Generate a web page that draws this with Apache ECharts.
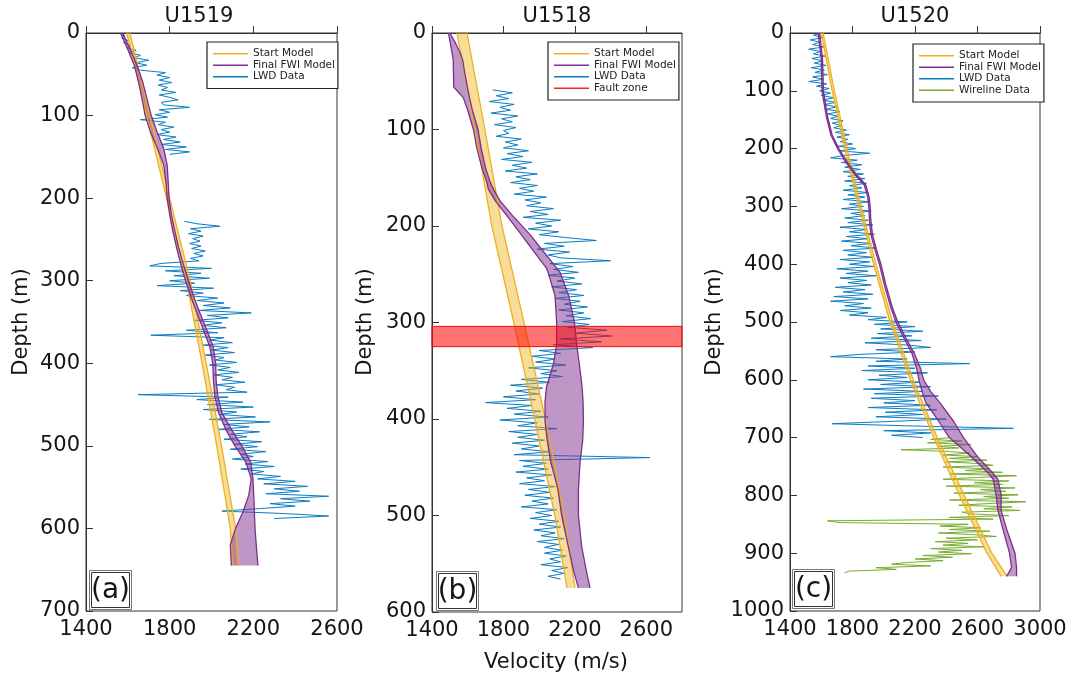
<!DOCTYPE html>
<html><head><meta charset="utf-8">
<script src="https://cdn.jsdelivr.net/npm/echarts@6/dist/echarts.min.js"></script>
<style>html,body{margin:0;padding:0;background:#fff}#chart{width:1075px;height:679px}</style>
</head><body><div id="chart"></div>
<script>
// ================= DATA =================
const panelTitles = ['U1519', 'U1518', 'U1520'];
const panelLetters = ['(a)', '(b)', '(c)'];
const velocityMin = 1400;
const velocityMax = [2600, 2800, 3000];
const velocityTick = 400;
const depthMax = [700, 600, 1000];
const depthTick = 100;
const legendNames = [
  ['Start Model', 'Final FWI Model', 'LWD Data'],
  ['Start Model', 'Final FWI Model', 'LWD Data', 'Fault zone'],
  ['Start Model', 'Final FWI Model', 'LWD Data', 'Wireline Data']
];
const axisTitleX = 'Velocity (m/s)';
const axisTitleY = 'Depth (m)';

// ---- U1519 (a) ----
const startA_depth = [0, 100, 200, 300, 400, 500, 600, 645];
const startA_left  = [1595, 1690, 1785, 1880, 1955, 2025, 2090, 2100];
const startA_right = [1610, 1705, 1800, 1898, 1975, 2048, 2115, 2130];
const fwiA_depth = [0, 20, 40, 60, 80, 100, 120, 140, 160, 180, 200, 220, 240, 260, 280, 300, 320, 340, 360, 380, 400, 420, 440, 460, 480, 500, 520, 540, 560, 580, 600, 620, 645];
const fwiA_left  = [1565, 1600, 1632, 1652, 1668, 1683, 1708, 1742, 1772, 1782, 1788, 1800, 1815, 1833, 1853, 1876, 1902, 1932, 1962, 1992, 2006, 2009, 2016, 2034, 2068, 2112, 2165, 2190, 2178, 2150, 2115, 2090, 2095];
const fwiA_right = [1575, 1612, 1645, 1672, 1692, 1712, 1740, 1772, 1788, 1793, 1797, 1808, 1825, 1843, 1865, 1890, 1916, 1946, 1978, 2008, 2020, 2022, 2030, 2050, 2095, 2145, 2188, 2198, 2202, 2205, 2208, 2214, 2222];
const lwdA1_top = 0, lwdA1_step = 3;
const lwdA1 = [1560, 1585, 1570, 1600, 1580, 1615, 1595, 1640, 1605, 1660,
  1630, 1700, 1640, 1690, 1620, 1660, 1780, 1740, 1800, 1750,
  1810, 1745, 1790, 1760, 1830, 1750, 1800, 1840, 1760, 1770,
  1895, 1750, 1800, 1730, 1790, 1660, 1780, 1745, 1820, 1760,
  1800, 1740, 1830, 1770, 1850, 1760, 1880, 1780, 1895, 1800];
const lwdA2_top = 228, lwdA2_step = 3;
const lwdA2 = [1870, 1930, 2040, 1900, 1950, 1890, 1960, 1910, 1945, 1895,
  1950, 1905, 1970, 1915, 1960, 1900, 1940, 1760, 1705, 2000,
  1780, 1950, 1820, 1990, 1800, 1920, 1740, 2010, 1850, 1960,
  1880, 2030, 1930, 2060, 1960, 2090, 1940, 2190, 1980, 2080,
  1920, 2050, 1960, 2070, 1880, 2030, 1710, 2060, 1990, 2100,
  1960, 2080, 2000, 2110, 1970, 2060, 2020, 2120, 1990, 2090,
  2030, 2130, 2010, 2100, 2050, 2160, 2020, 2110, 2070, 2170,
  1650, 2080, 1930, 2150, 1980, 2200, 1960, 2120, 2040, 2210,
  1990, 2280, 2060, 2180, 2030, 2230, 2090, 2170, 2060, 2240,
  2110, 2220, 2090, 2260, 2140, 2200, 2100, 2270, 2160, 2300,
  2140, 2250, 2190, 2330, 2220, 2400, 2250, 2460, 2300, 2420,
  2260, 2560, 2330, 2470, 2280, 2400, 2230, 2050, 2350, 2560,
  2300];

// ---- U1518 (b) ----
const startB_depth = [0, 100, 200, 300, 400, 500, 575];
const startB_left  = [1540, 1640, 1735, 1858, 1975, 2088, 2156];
const startB_right = [1596, 1696, 1792, 1915, 2035, 2140, 2201];
const fwiB_depth = [0, 10, 20, 28, 40, 56, 67, 80, 100, 120, 140, 154, 162, 174, 189, 209, 221, 244, 248, 272, 300, 323, 343, 366, 382, 402, 422, 445, 461, 473, 500, 532, 559, 575];
const fwiB_left  = [1492, 1502, 1512, 1519, 1520, 1522, 1575, 1600, 1632, 1652, 1680, 1706, 1716, 1755, 1818, 1900, 1949, 2042, 2050, 2089, 2098, 2098, 2080, 2042, 2033, 2033, 2045, 2065, 2089, 2105, 2126, 2163, 2195, 2220];
const fwiB_right = [1500, 1530, 1556, 1572, 1582, 1598, 1610, 1626, 1658, 1676, 1700, 1725, 1745, 1781, 1850, 1949, 2000, 2100, 2117, 2165, 2198, 2210, 2225, 2240, 2246, 2248, 2244, 2229, 2224, 2220, 2220, 2238, 2266, 2285];
const lwdB_top = 59, lwdB_step = 3;
const lwdB = [1740, 1850, 1760, 1830, 1720, 1860, 1780, 1840, 1730, 1880,
  1790, 1850, 1750, 1870, 1800, 1830, 1760, 1900, 1810, 1880,
  1800, 1940, 1820, 1910, 1790, 1960, 1850, 1930, 1810, 1990,
  1870, 1950, 1840, 1990, 1890, 1970, 1860, 2040, 1920, 2010,
  1930, 2080, 1950, 2050, 1910, 2120, 1980, 2070, 1940, 2110,
  2000, 2150, 2320, 2030, 2140, 1990, 2170, 2050, 2120, 2400,
  2060, 2190, 2080, 2220, 2050, 2200, 2100, 2240, 2070, 2210,
  2110, 2250, 2090, 2230, 2140, 2270, 2110, 2250, 2150, 2290,
  2130, 2280, 2160, 2380, 2200, 2410, 2120, 2350, 2080, 2300,
  2000, 2120, 1960, 2090, 1980, 2150, 1940, 2100, 2010, 2130,
  1900, 2060, 1840, 2020, 1870, 2000, 1800, 1980, 1700, 1960,
  1820, 2010, 1860, 2050, 1780, 1990, 1880, 2100, 1830, 1990,
  1880, 2030, 1850, 2000, 1900, 2060, 1860, 2620, 1890, 2040,
  1910, 2050, 1870, 2070, 1930, 2030, 1890, 2090, 1940, 2060,
  1920, 2080, 1960, 2050, 1900, 2100, 1980, 2070, 1950, 2110,
  2000, 2120, 1970, 2090, 2010, 2140, 1990, 2110, 2030, 2130,
  2030, 2150, 2060, 2120, 2010, 2160, 2070, 2140, 2050, 2120];
const faultZone = [304, 325];

// ---- U1520 (c) ----
const startC_depth = [0, 100, 200, 300, 400, 500, 600, 700, 800, 900, 940];
const startC_left  = [1600, 1670, 1750, 1840, 1935, 2040, 2170, 2320, 2485, 2660, 2752];
const startC_right = [1612, 1684, 1765, 1855, 1950, 2056, 2188, 2342, 2515, 2692, 2790];
const fwiC_depth = [0, 45, 100, 144, 177, 200, 224, 243, 263, 283, 300, 323, 349, 376, 400, 435, 475, 500, 528, 554, 580, 600, 620, 640, 673, 700, 733, 759, 772, 800, 825, 858, 900, 925, 940];
const fwiC_left  = [1580, 1600, 1605, 1632, 1662, 1705, 1758, 1810, 1875, 1897, 1904, 1908, 1918, 1945, 1972, 2003, 2045, 2078, 2130, 2180, 2210, 2225, 2245, 2270, 2355, 2420, 2560, 2660, 2700, 2720, 2730, 2762, 2805, 2818, 2786];
const fwiC_right = [1590, 1608, 1614, 1640, 1670, 1713, 1768, 1820, 1885, 1906, 1913, 1917, 1928, 1955, 1982, 2013, 2055, 2090, 2142, 2195, 2235, 2255, 2300, 2360, 2450, 2510, 2600, 2690, 2730, 2752, 2750, 2786, 2840, 2850, 2850];
const lwdC_top = 0, lwdC_step = 4;
const lwdC = [1600, 1550, 1610, 1530, 1590, 1545, 1620, 1520, 1595, 1550,
  1625, 1540, 1610, 1555, 1630, 1535, 1620, 1560, 1640, 1545,
  1615, 1520, 1635, 1570, 1650, 1590, 1660, 1600, 1680, 1610,
  1690, 1620, 1700, 1630, 1720, 1640, 1710, 1660, 1740, 1670,
  1730, 1680, 1760, 1690, 1780, 1700, 1770, 1720, 1800, 1710,
  1820, 1720, 1910, 1740, 1660, 1830, 1730, 1860, 1750, 1850,
  1740, 1870, 1770, 1880, 1750, 1890, 1780, 1860, 1740, 1900,
  1770, 1880, 1740, 1910, 1780, 1870, 1730, 1920, 1790, 1880,
  1750, 1900, 1770, 1930, 1720, 1890, 1780, 1940, 1760, 1900,
  1730, 1920, 1790, 1950, 1740, 1890, 1770, 1930, 1720, 1910,
  1780, 1940, 1700, 1900, 1760, 1950, 1720, 1890, 1770, 1920,
  1690, 1880, 1740, 1930, 1680, 1900, 1660, 1870, 1750, 1920,
  1720, 1900, 1780, 2020, 1900, 2150, 1940, 2200, 1980, 2250,
  1960, 2180, 1920, 2240, 1880, 2160, 2300, 1950, 2200, 1850,
  1660, 2150, 1950, 2550, 1900, 2200, 1860, 2280, 1970, 2150,
  1900, 2230, 1980, 2300, 1870, 2250, 1940, 2350, 1920, 2200,
  2000, 2300, 1900, 2340, 2010, 2250, 1950, 2400, 2050, 1670,
  2200, 2830, 2000, 2300, 2050, 2250];
const wireC_top = 700, wireC_step = 3;
const wireC = [2420, 2300, 2500, 2280, 2560, 2350, 2480, 2110, 2420, 2550,
  2380, 2600, 2420, 2660, 2400, 2620, 2700, 2380, 2680, 2520,
  2760, 2420, 2850, 2600, 2380, 2800, 2580, 2760, 2400, 2840,
  2620, 2780, 2450, 2860, 2640, 2800, 2420, 2910, 2680, 2480,
  2820, 2640, 2870, 2500, 2560, 2800, 2420, 2700, 1640, 1720,
  2540, 2360, 2620, 2420, 2680, 2350, 2580, 2720, 2400, 2600,
  2330, 2540, 2380, 2640, 2300, 2500, 2350, 2560, 2250, 2440,
  2200, 2380, 2150, 2050, 2300, 1950, 2080, 1780, 1750];

// ================= STYLE / LAYOUT =================
const FONT = 'DejaVu Sans';
const C_START = '#EDB120', F_START = 'rgba(237,177,32,0.45)';
const C_FWI = '#7E2F8E', F_FWI = 'rgba(126,47,142,0.5)';
const C_LWD = '#0a7cc4', C_WIRE = '#77AC30', C_FAULT = '#ff2020';
const grids = [
  {left: 86, top: 33, width: 251, height: 578},
  {left: 432, top: 33, width: 250, height: 579},
  {left: 790, top: 33, width: 250, height: 578}
];

function pairs(depths, vals) { return depths.map((d, i) => [vals[i], d]); }
function logPairs(top, step, vals) { return vals.map((v, i) => [v, top + i * step]); }

function bandSeries(gi, name, depth, left, right, lineColor, fillColor) {
  const l = pairs(depth, left), r = pairs(depth, right);
  const poly = l.concat(r.slice().reverse());
  return [
    {type: 'custom', name: name + ' range', xAxisIndex: gi, yAxisIndex: gi, data: poly, z: 3, silent: true, clip: true,
      renderItem: (p, api) => p.dataIndex === 0 ? {type: 'polygon', shape: {points: poly.map(q => api.coord(q))}, style: {fill: fillColor}} : null},
    {type: 'line', name, xAxisIndex: gi, yAxisIndex: gi, data: l, symbol: 'none', color: lineColor, lineStyle: {width: 1.3, color: lineColor}, z: 4},
    {type: 'line', name, xAxisIndex: gi, yAxisIndex: gi, data: r, symbol: 'none', color: lineColor, lineStyle: {width: 1.3, color: lineColor}, z: 4}
  ];
}
function logSeries(gi, name, data, color) {
  return {type: 'line', name, xAxisIndex: gi, yAxisIndex: gi, data, symbol: 'none', color, lineStyle: {width: 1, color}, z: 2};
}

const series = [];
series.push(logSeries(0, 'LWD Data', logPairs(lwdA1_top, lwdA1_step, lwdA1), C_LWD));
series.push(logSeries(0, 'LWD Data', logPairs(lwdA2_top, lwdA2_step, lwdA2), C_LWD));
series.push(...bandSeries(0, 'Start Model', startA_depth, startA_left, startA_right, C_START, F_START));
series.push(...bandSeries(0, 'Final FWI Model', fwiA_depth, fwiA_left, fwiA_right, C_FWI, F_FWI));

series.push(logSeries(1, 'LWD Data', logPairs(lwdB_top, lwdB_step, lwdB), C_LWD));
series.push(...bandSeries(1, 'Start Model', startB_depth, startB_left, startB_right, C_START, F_START));
series.push(...bandSeries(1, 'Final FWI Model', fwiB_depth, fwiB_left, fwiB_right, C_FWI, F_FWI));
series.push({type: 'custom', name: 'Fault zone', xAxisIndex: 1, yAxisIndex: 1, data: [faultZone], encode: {y: [0, 1]}, z: 6, silent: true,
  color: C_FAULT, itemStyle: {color: C_FAULT},
  renderItem: (p, api) => {
    const cs = p.coordSys;
    const y1 = api.coord([velocityMin, api.value(0)])[1];
    const y2 = api.coord([velocityMin, api.value(1)])[1];
    return {type: 'rect', shape: {x: cs.x, y: y1, width: cs.width, height: y2 - y1},
      style: {fill: 'rgba(255,0,0,0.55)', stroke: '#ee1010', lineWidth: 1}};
  }});

series.push(logSeries(2, 'LWD Data', logPairs(lwdC_top, lwdC_step, lwdC), C_LWD));
series.push(logSeries(2, 'Wireline Data', logPairs(wireC_top, wireC_step, wireC), C_WIRE));
series.push(...bandSeries(2, 'Start Model', startC_depth, startC_left, startC_right, C_START, F_START));
series.push(...bandSeries(2, 'Final FWI Model', fwiC_depth, fwiC_left, fwiC_right, C_FWI, F_FWI));

const plain = v => String(v);
const axisCommon = {
  axisLine: {show: true, lineStyle: {color: '#333', width: 1}},
  axisTick: {show: true, inside: true, length: 7, lineStyle: {color: '#333'}},
  splitLine: {show: false}
};
const labelCommon = {fontFamily: FONT, fontSize: 21, color: '#151515', formatter: plain};
const xAxes = grids.map((g, i) => Object.assign({}, axisCommon, {
  type: 'value', gridIndex: i, min: velocityMin, max: velocityMax[i], interval: velocityTick,
  axisLabel: Object.assign({}, labelCommon, {margin: 8})
}));
const yAxes = grids.map((g, i) => Object.assign({}, axisCommon, {
  type: 'value', gridIndex: i, inverse: true, min: 0, max: depthMax[i], interval: depthTick,
  axisLabel: Object.assign({}, labelCommon, {margin: 6})
}));

const legendPos = [{left: 207, top: 42}, {left: 548, top: 42}, {left: 913, top: 44}];
const legends = legendNames.map((names, i) => ({
  data: names, left: legendPos[i].left, top: legendPos[i].top, orient: 'vertical',
  selectedMode: false, icon: 'rect', itemWidth: 35, itemHeight: 1.5, itemGap: 0,
  padding: [6, 3, 6, 6], borderColor: '#222', borderWidth: 1.2, backgroundColor: '#fff',
  textStyle: {fontFamily: FONT, fontSize: 10.5, color: '#222', lineHeight: 11.5}, z: 10
}));

function txt(x, y, text, size, rot) {
  return {type: 'text', x, y, rotation: rot || 0, z: 100,
    style: {text, fontFamily: FONT, fontSize: size, fill: '#151515', align: 'center', verticalAlign: 'middle', textAlign: 'center', textVerticalAlign: 'middle'}};
}
const letterBoxes = [{x: 89, y: 570, w: 42, h: 39}, {x: 436, y: 571, w: 42, h: 39}, {x: 792, y: 569, w: 42, h: 39}];
const graphics = [];
panelTitles.forEach((t, i) => graphics.push(txt([199, 557, 915][i], 17, t, 21)));
[22, 366, 715].forEach(x => graphics.push(txt(x, 322, axisTitleY, 21, Math.PI / 2)));
graphics.push(txt(556, 663, axisTitleX, 21));
letterBoxes.forEach((b, i) => {
  graphics.push({type: 'rect', z: 99, shape: {x: b.x + 0.5, y: b.y + 0.5, width: b.w, height: b.h}, style: {fill: '#fff', stroke: '#777', lineWidth: 1}});
  graphics.push({type: 'rect', z: 99, shape: {x: b.x + 2.5, y: b.y + 2.5, width: b.w - 4, height: b.h - 4}, style: {fill: 'none', stroke: '#333', lineWidth: 1}});
  graphics.push(txt(b.x + b.w / 2 + 0.5, b.y + b.h / 2 + 1, panelLetters[i], 28));
});

const chart = echarts.init(document.getElementById('chart'), null, {renderer: 'canvas'});
chart.setOption({
  animation: false,
  backgroundColor: '#fff',
  grid: grids.map(g => Object.assign({show: true, borderColor: '#333', borderWidth: 1, backgroundColor: 'transparent'}, g)),
  xAxis: xAxes,
  yAxis: yAxes,
  legend: legends,
  series,
  graphic: graphics
});
</script></body></html>
